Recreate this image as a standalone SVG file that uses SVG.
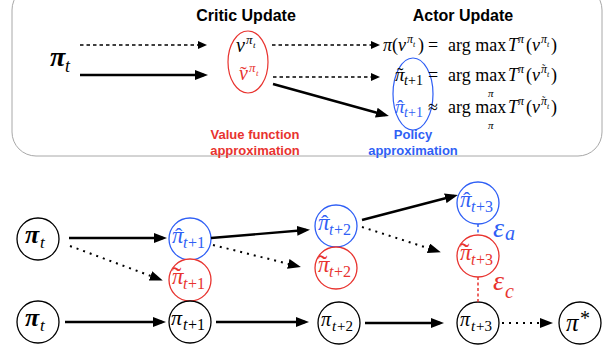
<svg xmlns="http://www.w3.org/2000/svg" width="605" height="354" viewBox="0 0 605 354">
<style>
.h{font-family:"Liberation Sans",Arial,sans-serif;font-weight:bold;font-size:16px;text-anchor:middle;fill:#000}
.lb{font-family:"Liberation Sans",Arial,sans-serif;font-weight:bold;font-size:13px;text-anchor:middle}
.f{font-family:"Liberation Serif","Times New Roman",serif}
.it{font-style:italic}
.up{font-style:normal}
.c{fill:#fff;stroke-width:1.3}
.k{stroke:#000}.r{stroke:#e8332f}.b{stroke:#2f5ff5}
.R{fill:#e8332f}.B{fill:#2f5ff5}
.sol{stroke:#000;stroke-width:2.4;fill:none}
.dot{stroke:#000;stroke-width:2;stroke-dasharray:2 5;fill:none}
.dsh{stroke:#000;stroke-width:1.3;stroke-dasharray:3.5 3;fill:none}
</style>
<defs>
<marker id="ah" markerUnits="userSpaceOnUse" markerWidth="13" markerHeight="10" viewBox="0 0 13 10" refX="9" refY="5" orient="auto"><path d="M0,0 L13,5 L0,10 z" fill="#000"/></marker>
<marker id="as" markerUnits="userSpaceOnUse" markerWidth="9" markerHeight="8" viewBox="0 0 9 8" refX="6" refY="4" orient="auto"><path d="M0,0 L9,4 L0,8 z" fill="#000"/></marker>
</defs>
<g id="top-panel">
<rect x="12" y="-14" width="590" height="170" rx="24" fill="none" stroke="#a8a8a8" stroke-width="1"/>
<text class="h" x="246" y="21">Critic Update</text>
<text class="h" x="463" y="21">Actor Update</text>
<text class="f it" font-weight="bold"><tspan x="50" y="66" font-size="28">π</tspan><tspan x="65" y="72" font-size="18" font-weight="normal">t</tspan></text>
</g>
<g id="critic">
<ellipse cx="248" cy="62" rx="20" ry="31" fill="none" stroke="#e8332f" stroke-width="1.2"/>
<text class="f it"><tspan x="236" y="52" font-size="20">v</tspan><tspan x="246" y="44" font-size="13">π</tspan><tspan x="253" y="48" font-size="9">t</tspan></text>
<text class="f it R"><tspan x="239" y="80" font-size="20">v</tspan><tspan x="240" y="81" font-size="20" class="up">˜</tspan><tspan x="249" y="72" font-size="13">π</tspan><tspan x="256" y="76" font-size="9">t</tspan></text>
<text class="lb R" x="255" y="139">Value function</text>
<text class="lb R" x="255" y="155">approximation</text>
</g>
<g id="actor">
<ellipse cx="413" cy="94" rx="20" ry="36" fill="none" stroke="#2f5ff5" stroke-width="1.2"/>
<text class="f" font-size="18"><tspan x="383" y="51" class="it">π</tspan><tspan x="392" y="51">(</tspan><tspan x="398" y="51" class="it">v</tspan><tspan x="407" y="43" class="it" font-size="12">π</tspan><tspan x="413" y="47" class="it" font-size="8">t</tspan><tspan x="418" y="51">)</tspan><tspan x="428" y="51">=</tspan><tspan x="448" y="51">arg max</tspan><tspan x="508" y="51" class="it">T</tspan><tspan x="518" y="43" class="it" font-size="12">π</tspan><tspan x="526" y="51">(</tspan><tspan x="532" y="51" class="it">v</tspan><tspan x="541" y="43" class="it" font-size="12">π</tspan><tspan x="547" y="47" class="it" font-size="8">t</tspan><tspan x="551" y="51">)</tspan></text>
<text class="f" font-size="18"><tspan x="395" y="81" class="it" font-size="19">π</tspan><tspan x="397" y="81" font-size="19">˜</tspan><tspan x="404" y="85" class="it" font-size="14">t</tspan><tspan x="408" y="85" font-size="14">+1</tspan><tspan x="428" y="81">=</tspan><tspan x="448" y="81">arg max</tspan><tspan x="488" y="97" class="it" font-size="11">π</tspan><tspan x="508" y="81" class="it">T</tspan><tspan x="518" y="73" class="it" font-size="12">π</tspan><tspan x="526" y="81">(</tspan><tspan x="532" y="81" class="it">v</tspan><tspan x="541" y="73" class="it" font-size="12">π</tspan><tspan x="542" y="72" font-size="10">˜</tspan><tspan x="547" y="77" class="it" font-size="8">t</tspan><tspan x="551" y="81">)</tspan></text>
<text class="f" font-size="18"><tspan x="395" y="113" class="it B" font-size="19">π</tspan><tspan x="397" y="113" class="B" font-size="19">ˆ</tspan><tspan x="404" y="117" class="it B" font-size="14">t</tspan><tspan x="408" y="117" class="B" font-size="14">+1</tspan><tspan x="428" y="113">≈</tspan><tspan x="448" y="113">arg max</tspan><tspan x="488" y="129" class="it" font-size="11">π</tspan><tspan x="508" y="113" class="it">T</tspan><tspan x="518" y="105" class="it" font-size="12">π</tspan><tspan x="526" y="113">(</tspan><tspan x="532" y="113" class="it">v</tspan><tspan x="541" y="105" class="it" font-size="12">π</tspan><tspan x="542" y="104" font-size="10">˜</tspan><tspan x="547" y="109" class="it" font-size="8">t</tspan><tspan x="551" y="113">)</tspan></text>
<text class="lb B" x="413" y="139">Policy</text>
<text class="lb B" x="413" y="155">approximation</text>
</g>
<g id="n1"><circle class="c k" cx="38" cy="239" r="21"/><text class="f it"><tspan x="25" y="243" font-size="26" font-weight="bold">π</tspan><tspan x="40" y="248" font-size="17">t</tspan></text></g>
<g id="n2"><circle class="c k" cx="38" cy="322" r="21"/><text class="f it"><tspan x="25" y="326" font-size="26" font-weight="bold">π</tspan><tspan x="40" y="331" font-size="17">t</tspan></text></g>
<g id="n3"><circle class="c b" cx="190" cy="239" r="21"/><text class="f it B"><tspan x="172" y="243" font-size="23">π</tspan><tspan x="175" y="243" font-size="22" class="up">ˆ</tspan><tspan x="183" y="248" font-size="16">t</tspan><tspan x="188" y="248" font-size="16" class="up">+1</tspan></text></g>
<g id="n4"><circle class="c r" cx="190" cy="280" r="21"/><text class="f it R"><tspan x="172" y="284" font-size="23">π</tspan><tspan x="172" y="286" font-size="28" class="up">˜</tspan><tspan x="183" y="289" font-size="16">t</tspan><tspan x="188" y="289" font-size="16" class="up">+1</tspan></text></g>
<g id="n5"><circle class="c k" cx="190" cy="322" r="21"/><text class="f it"><tspan x="171" y="325" font-size="22">π</tspan><tspan x="183" y="330" font-size="16">t</tspan><tspan x="188" y="330" font-size="16" class="up">+1</tspan></text></g>
<g id="n6"><circle class="c b" cx="336" cy="226" r="21"/><text class="f it B"><tspan x="318" y="230" font-size="23">π</tspan><tspan x="321" y="230" font-size="22" class="up">ˆ</tspan><tspan x="329" y="235" font-size="16">t</tspan><tspan x="334" y="235" font-size="16" class="up">+2</tspan></text></g>
<g id="n7"><circle class="c r" cx="336" cy="268" r="21"/><text class="f it R"><tspan x="318" y="272" font-size="23">π</tspan><tspan x="318" y="274" font-size="28" class="up">˜</tspan><tspan x="329" y="277" font-size="16">t</tspan><tspan x="334" y="277" font-size="16" class="up">+2</tspan></text></g>
<g id="n8"><circle class="c k" cx="339" cy="323" r="21"/><text class="f it"><tspan x="321" y="326" font-size="20">π</tspan><tspan x="332" y="331" font-size="15">t</tspan><tspan x="337" y="331" font-size="15" class="up">+2</tspan></text></g>
<g id="n9"><circle class="c b" cx="478" cy="203" r="21"/><text class="f it B"><tspan x="460" y="207" font-size="23">π</tspan><tspan x="463" y="207" font-size="22" class="up">ˆ</tspan><tspan x="471" y="212" font-size="16">t</tspan><tspan x="476" y="212" font-size="16" class="up">+3</tspan></text></g>
<g id="n10"><circle class="c r" cx="478" cy="256" r="21"/><text class="f it R"><tspan x="460" y="260" font-size="23">π</tspan><tspan x="460" y="262" font-size="28" class="up">˜</tspan><tspan x="471" y="265" font-size="16">t</tspan><tspan x="476" y="265" font-size="16" class="up">+3</tspan></text></g>
<g id="n11"><circle class="c k" cx="478" cy="323" r="21"/><text class="f it"><tspan x="460" y="326" font-size="20">π</tspan><tspan x="471" y="331" font-size="15">t</tspan><tspan x="476" y="331" font-size="15" class="up">+3</tspan></text></g>
<g id="n12"><circle class="c k" cx="580" cy="323" r="21"/><text class="f it"><tspan x="566" y="331" font-size="25">π</tspan><tspan x="580" y="325" font-size="20" class="up">*</tspan></text></g>
<g id="errors">
<text class="f it B"><tspan x="493" y="237" font-size="28">ε</tspan><tspan x="505" y="240" font-size="20">a</tspan></text>
<text class="f it R"><tspan x="493" y="290" font-size="28">ε</tspan><tspan x="505" y="298" font-size="20">c</tspan></text>
</g>
<g id="connectors">
<line class="dsh" x1="80" y1="45" x2="204" y2="45" marker-end="url(#as)"/>
<line class="sol" x1="80" y1="75" x2="204" y2="75" marker-end="url(#ah)"/>
<line class="dsh" x1="272" y1="45" x2="377" y2="45" marker-end="url(#as)"/>
<line class="dsh" x1="273" y1="77" x2="377" y2="77" marker-end="url(#as)"/>
<line class="sol" x1="273" y1="84" x2="385" y2="115" marker-end="url(#ah)"/>
<line class="sol" x1="69" y1="238" x2="163" y2="238" marker-end="url(#ah)"/>
<line class="dot" x1="70" y1="246" x2="159" y2="279" marker-end="url(#ah)"/>
<line class="sol" x1="211" y1="238" x2="306" y2="230" marker-end="url(#ah)"/>
<line class="dot" x1="213" y1="245" x2="297" y2="266" marker-end="url(#ah)"/>
<line class="sol" x1="65" y1="322" x2="162" y2="322" marker-end="url(#ah)"/>
<line class="sol" x1="216" y1="322" x2="305" y2="322" marker-end="url(#ah)"/>
<line class="sol" x1="362" y1="220" x2="454" y2="196" marker-end="url(#ah)"/>
<line class="dot" x1="362" y1="227" x2="437" y2="251" marker-end="url(#ah)"/>
<line class="sol" x1="365" y1="323" x2="440" y2="323" marker-end="url(#ah)"/>
<line class="dot" x1="502" y1="323" x2="549" y2="323" marker-end="url(#ah)"/>
<line x1="478" y1="224" x2="478" y2="235" stroke="#2f5ff5" stroke-width="1.5" stroke-dasharray="3 2.5"/>
<line x1="478" y1="277" x2="478" y2="302" stroke="#e8332f" stroke-width="1.5" stroke-dasharray="3 2.5"/>
</g>
</svg>
